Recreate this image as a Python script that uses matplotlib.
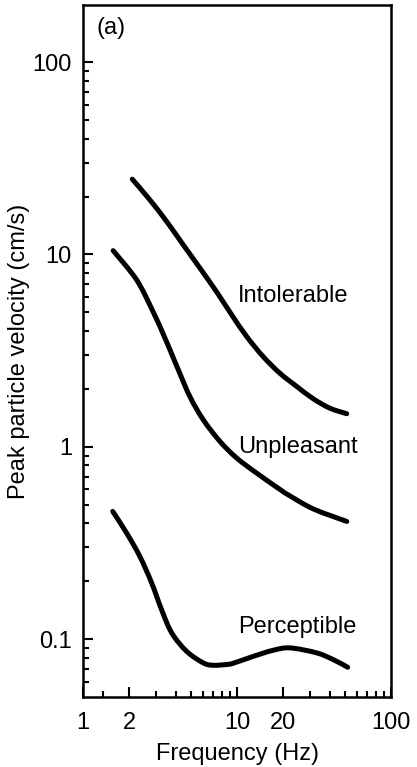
import matplotlib
matplotlib.use("Agg")
import numpy as np
import matplotlib.pyplot as plt
from matplotlib.path import Path
from matplotlib.patches import PathPatch
from matplotlib.ticker import FixedLocator, FixedFormatter, NullFormatter

plt.rcParams['font.family'] = ['Liberation Sans', 'DejaVu Sans']

# Data
intolerable_x = [2.09, 2.72, 3.50, 4.48, 5.75, 7.38, 9.24, 11.56, 14.8, 19.0, 24.4, 31.3, 40.2, 51.6]
intolerable_y = [24.6, 19.2, 14.8, 11.2, 8.48, 6.38, 4.85, 3.74, 2.94, 2.41, 2.06, 1.775, 1.585, 1.485]

unpleasant_x = [1.57, 2.23, 2.86, 3.32, 3.77, 4.16, 4.95, 6.04, 7.76, 9.95, 13.4, 19.0, 22.1, 31.3, 51.6]
unpleasant_y = [10.46, 7.37, 5.01, 3.85, 3.03, 2.51, 1.82, 1.38, 1.065, 0.874, 0.73, 0.60, 0.555, 0.475, 0.409]

perceptible_x = [1.56, 1.92, 2.34, 2.79, 3.24, 3.77, 4.71, 6.04, 7.0, 8.57, 9.46, 12.8, 17.2, 22.1, 32.9, 42.2, 52.3]
perceptible_y = [0.461, 0.356, 0.269, 0.196, 0.142, 0.1076, 0.0864, 0.0752, 0.0731, 0.0738, 0.0749, 0.0814, 0.0875, 0.090, 0.0848, 0.0782, 0.0714]

curve_labels = ["Intolerable", "Unpleasant", "Perceptible"]
label_y = [6.05, 0.995, 0.116]
label_x = 10.15

x_major = [1, 2, 10, 20, 100]
x_major_labels = ["1", "2", "10", "20", "100"]
x_minor = [1.35, 3, 4, 5, 6, 7, 8, 9, 30, 40, 50, 60, 70, 80, 90]
y_major = [0.1, 1, 10, 100]
y_major_labels = ["0.1", "1", "10", "100"]
y_minor = [0.06, 0.07, 0.08, 0.09, 0.2, 0.3, 0.4, 0.5, 0.6, 0.7, 0.8, 0.9,
           2, 3, 4, 5, 6, 7, 8, 9, 20, 30, 40, 50, 60, 70, 80, 90]


def smooth_path(xs, ys):
    """Bezier path through the given points (Catmull-Rom control points in log space)."""
    lx = np.log10(xs)
    ly = np.log10(ys)
    pts = np.column_stack([lx, ly])
    n = len(pts)
    verts = [pts[0]]
    codes = [Path.MOVETO]
    for i in range(n - 1):
        p0 = pts[i - 1] if i > 0 else pts[i]
        p1 = pts[i]
        p2 = pts[i + 1]
        p3 = pts[i + 2] if i + 2 < n else pts[i + 1]
        c1 = p1 + (p2 - p0) / 6.0
        c2 = p2 - (p3 - p1) / 6.0
        verts += [c1, c2, p2]
        codes += [Path.CURVE4] * 3
    verts = 10 ** np.array(verts)
    return Path(verts, codes)


fig = plt.figure(figsize=(4.17, 7.67), dpi=100)
ax = fig.add_axes([83/417, 70/767, 308/417, 692/767])

ax.set_xscale('log')
ax.set_yscale('log')
ax.set_xlim(1, 100)
ax.set_ylim(0.05, 198)

for xs, ys in [(intolerable_x, intolerable_y), (unpleasant_x, unpleasant_y), (perceptible_x, perceptible_y)]:
    patch = PathPatch(smooth_path(xs, ys), fill=False, edgecolor='black', lw=3.6,
                      capstyle='round', joinstyle='round')
    ax.add_patch(patch)

ax.xaxis.set_major_locator(FixedLocator(x_major))
ax.xaxis.set_major_formatter(FixedFormatter(x_major_labels))
ax.xaxis.set_minor_locator(FixedLocator(x_minor))
ax.xaxis.set_minor_formatter(NullFormatter())
ax.yaxis.set_major_locator(FixedLocator(y_major))
ax.yaxis.set_major_formatter(FixedFormatter(y_major_labels))
ax.yaxis.set_minor_locator(FixedLocator(y_minor))
ax.yaxis.set_minor_formatter(NullFormatter())

ax.tick_params(which='both', direction='in', top=False, right=False, width=1.5, labelsize=17, colors='black')
ax.tick_params(which='major', length=7)
ax.tick_params(axis='x', which='major', pad=11)
ax.tick_params(axis='y', which='major', pad=8)
ax.tick_params(which='minor', length=4.5)
for s in ax.spines.values():
    s.set_linewidth(1.8)

ax.set_xlabel("Frequency (Hz)", fontsize=17, labelpad=6)
ax.set_ylabel("Peak particle velocity (cm/s)", fontsize=17, labelpad=2)

for lab, yv in zip(curve_labels, label_y):
    ax.text(label_x, yv, lab, fontsize=17, ha='left', va='center')

ax.text(0.045, 0.967, "(a)", transform=ax.transAxes, fontsize=17, ha='left', va='center')

fig.savefig("out.png", dpi=100)
